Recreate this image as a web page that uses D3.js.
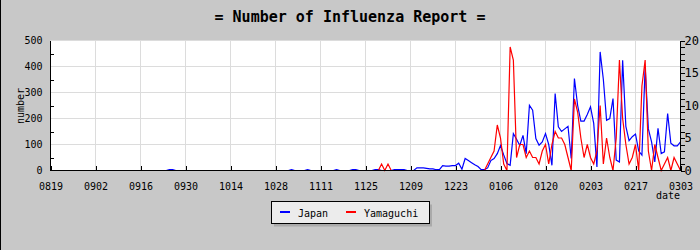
<!DOCTYPE html>
<html><head><meta charset="utf-8">
<script src="https://cdn.jsdelivr.net/npm/d3@7"></script>
<style>body{margin:0;background:#c8c8c8} svg{display:block} text{font-family:"DejaVu Sans Mono",monospace;}</style>
</head><body>
<svg id="chart" width="700" height="250"></svg>
<script>
const titleText = "= Number of Influenza Report =";
const startDate = "2008-08-19";
const tickLabels = ["0819","0902","0916","0930","1014","1028","1111","1125","1209","1223","0106","0120","0203","0217","0303"];
const leftTicks = [0,100,200,300,400,500];
const leftMinor = [50,150,250,350,450];
const rightTicks = [0,5,10,15,20];
const seriesNames = ["Japan","Yamaguchi"];
const seriesColors = ["#0000ff","#ff0000"];
const japan = [
0,0,0,0,0,0,0,0,0,0,
0,0,0,0,0,0,0,0,0,0,
0,0,0,0,0,0,0,0,0,0,
0,0,0,0,0,0,0,3,3,0,
0,0,0,0,0,0,0,0,0,0,
0,0,0,0,0,0,0,0,0,0,
0,0,0,0,0,0,0,0,0,0,
0,0,0,0,0,3,0,0,0,0,
3,0,0,0,0,0,0,0,0,3,
0,0,0,0,3,3,0,0,0,0,
0,3,3,0,0,0,0,3,3,3,
3,0,0,0,10,10,10,8,6,6,
3,3,19,17,17,19,19,28,5,46,
38,30,22,15,3,3,10,38,46,65,
96,60,27,20,142,120,96,135,65,251,
232,123,97,110,142,100,20,296,168,150,
160,170,46,354,250,190,190,215,245,181,
14,456,350,193,200,277,40,33,424,170,
115,130,140,75,59,400,160,110,33,162,
65,72,219,105,95,95,110];
const yamaguchi = [
0,0,0,0,0,0,0,0,0,0,
0,0,0,0,0,0,0,0,0,0,
0,0,0,0,0,0,0,0,0,0,
0,0,0,0,0,0,0,0,0,0,
0,0,0,0,0,0,0,0,0,0,
0,0,0,0,0,0,0,0,0,0,
0,0,0,0,0,0,0,0,0,0,
0,0,0,0,0,0,0,0,0,0,
0,0,0,0,0,0,0,0,0,0,
0,0,0,0,0,0,0,0,0,0,
0,0,0,1,0,1,0,0,0,0,
0,0,0,0,0,0,0,0,0,0,
0,0,0,0,0,0,0,0,0,0,
0,0,0,0,0,0,1,2,3,7,
5,1,0,19,17,2,4,4,2,3,
2,2,1,3,4,1,4,6,5,5,
4,2,0,11,9,5,2,4,2,1,
3,10,1,5,2,0,5,17,8,4,
1,2,4,0,13,17,3,0,4,2,
0,1,2,0,2,1,0];

const svg = d3.select("#chart");
const W = 700, H = 250;
const L = 50.5, R = 680.5, T = 40.5, B = 170.5;

svg.append("rect").attr("x",0).attr("y",0).attr("width",W).attr("height",H).attr("fill","#c8c8c8");
svg.append("line").attr("x1",0.5).attr("x2",0.5).attr("y1",0).attr("y2",H).attr("stroke","#000");

const start = d3.timeParse("%Y-%m-%d")(startDate);
const dates = japan.map((_, i) => d3.timeDay.offset(start, i));
const tickDates = tickLabels.map(s => {
  const m = +s.slice(0,2), d = +s.slice(2);
  return new Date(m >= 8 ? 2008 : 2009, m - 1, d);
});

const x = d3.scaleTime().domain([dates[0], dates[dates.length-1]]).range([L, R]);
const yL = d3.scaleLinear().domain([0,500]).range([B, T]);
const yR = d3.scaleLinear().domain([0,20]).range([B, T]);

svg.append("rect").attr("x",L).attr("y",T).attr("width",R-L).attr("height",B-T).attr("fill","#fff");

const grid = svg.append("g").attr("stroke","#dcdcdc").attr("shape-rendering","crispEdges");
grid.selectAll("line.h").data(leftTicks).join("line").attr("class","h")
  .attr("x1",L).attr("x2",R).attr("y1",d=>Math.round(yL(d)-0.5)+0.5).attr("y2",d=>Math.round(yL(d)-0.5)+0.5);
grid.selectAll("line.v").data(tickDates).join("line").attr("class","v")
  .attr("x1",d=>Math.round(x(d)-0.5)+0.5).attr("x2",d=>Math.round(x(d)-0.5)+0.5).attr("y1",T).attr("y2",B);

const lineJ = d3.line().x((d,i)=>x(dates[i])).y(d=>yL(d));
const lineY = d3.line().x((d,i)=>x(dates[i])).y(d=>yR(d));
svg.append("path").datum(japan).attr("d",lineJ).attr("fill","none").attr("stroke",seriesColors[0]).attr("stroke-width",1.2);
svg.append("path").datum(yamaguchi).attr("d",lineY).attr("fill","none").attr("stroke",seriesColors[1]).attr("stroke-width",1.2);

function styleAxis(g, size){
  g.select(".domain").remove();
  g.selectAll(".tick line").attr("stroke","#000").attr("shape-rendering","crispEdges");
  g.selectAll("text").attr("fill","#000").style("font-size", size+"px").style("font-family","DejaVu Sans Mono, monospace");
}
const gl = svg.append("g").attr("transform",`translate(${L},0)`)
  .call(d3.axisLeft(yL).tickValues(leftTicks).tickSize(0).tickPadding(8));
styleAxis(gl,10);
const glm = svg.append("g").attr("transform",`translate(${L},0)`)
  .call(d3.axisRight(yL).tickValues(leftMinor).tickSize(3).tickFormat(""));
styleAxis(glm,10);
const gr = svg.append("g").attr("transform",`translate(${R},0)`)
  .call(d3.axisRight(yR).tickValues(d3.range(0,21)).tickSize(4).tickPadding(0).tickFormat(d => rightTicks.includes(d) ? d : ""));
styleAxis(gr,12);
const gb = svg.append("g").attr("transform",`translate(0,${B})`)
  .call(d3.axisBottom(x).tickValues(tickDates).tickSize(0).tickPadding(12).tickFormat((d,i)=>tickLabels[i]));
styleAxis(gb,10);
const gbt = svg.append("g").attr("transform",`translate(0,${B})`)
  .call(d3.axisTop(x).tickValues(tickDates).tickSize(5).tickFormat(""));
styleAxis(gbt,10);

const ax = svg.append("g").attr("stroke","#000").attr("shape-rendering","crispEdges");
ax.append("line").attr("x1",L).attr("x2",L).attr("y1",T).attr("y2",B);
ax.append("line").attr("x1",R).attr("x2",R).attr("y1",T).attr("y2",B);
ax.append("line").attr("x1",L).attr("x2",R).attr("y1",B).attr("y2",B);

svg.append("text").attr("x",350).attr("y",22).attr("text-anchor","middle")
  .style("font-size","15px").style("font-weight","bold").attr("fill","#000").text(titleText);
svg.append("text").attr("transform","translate(24,106) rotate(-90)").attr("text-anchor","middle")
  .style("font-size","10px").text("number");
svg.append("text").attr("x",680).attr("y",199).attr("text-anchor","end")
  .style("font-size","10px").text("date");

const lg = svg.append("g");
lg.append("rect").attr("x",274).attr("y",204.5).attr("width",158).attr("height",22).attr("fill","#aaaaaa");
lg.append("rect").attr("x",271.5).attr("y",201.5).attr("width",158).attr("height",22).attr("fill","#ececec").attr("stroke","#000").attr("shape-rendering","crispEdges");
const legX = [280, 346];
seriesNames.forEach((n,i)=>{
  lg.append("rect").attr("x",legX[i]).attr("y",211).attr("width",10).attr("height",2).attr("fill",seriesColors[i]);
  lg.append("text").attr("x",legX[i]+18).attr("y",216.5).style("font-size","10px").text(n);
});
</script>
</body></html>
